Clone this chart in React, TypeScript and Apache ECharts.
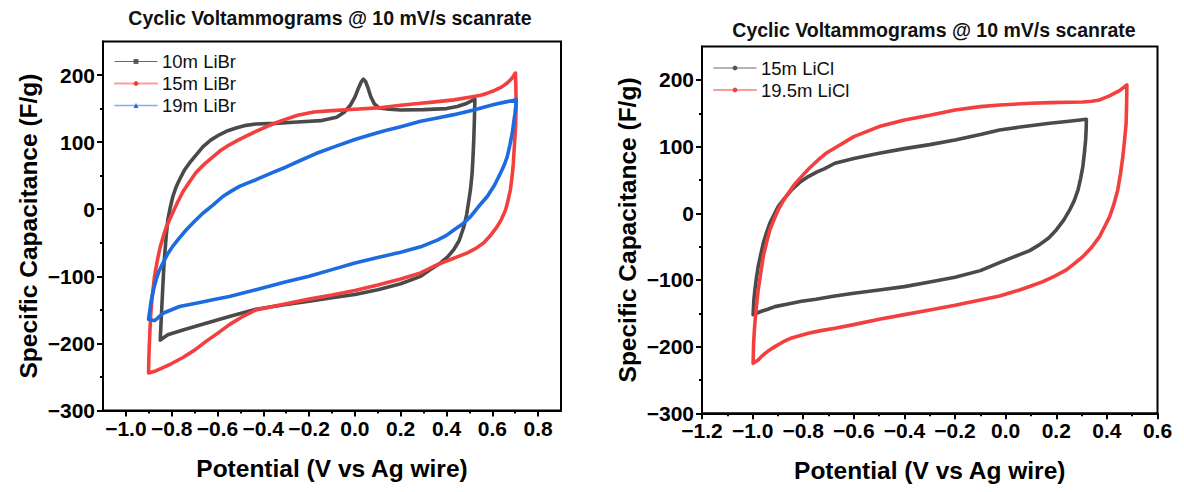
import { useEffect, useRef } from "react";
import * as echarts from "echarts";

type Pt = [number, number];

const TITLE = "Cyclic Voltammograms @ 10 mV/s scanrate";
const X_NAME = "Potential (V vs Ag wire)";
const Y_NAME = "Specific Capacitance (F/g)";

// Potential (V) vs specific capacitance (F/g); each loop is one full sweep.
const libr10: Pt[] = [
  [-0.85, -195], [-0.846, -165], [-0.843, -145], [-0.838, -110], [-0.834, -85], [-0.831, -70],
  [-0.824, -40], [-0.817, -16], [-0.806, 3], [-0.795, 19], [-0.781, 33], [-0.766, 44],
  [-0.745, 58], [-0.722, 69], [-0.693, 81], [-0.664, 93], [-0.63, 103], [-0.592, 111],
  [-0.555, 117], [-0.519, 121], [-0.475, 125], [-0.432, 127], [-0.35, 128], [-0.25, 130],
  [-0.15, 132], [-0.08, 137], [-0.045, 145], [-0.02, 155], [0.0, 167], [0.015, 180],
  [0.028, 190], [0.037, 194], [0.047, 190], [0.058, 180], [0.069, 168], [0.085, 157],
  [0.105, 151], [0.15, 149], [0.2, 148], [0.3, 148.5], [0.4, 150], [0.447, 153],
  [0.49, 158], [0.524, 164],
  [0.522, 135], [0.519, 103], [0.516, 80], [0.512, 54], [0.505, 30], [0.498, 14],
  [0.488, -8], [0.476, -26], [0.455, -47], [0.432, -60], [0.405, -71], [0.374, -80],
  [0.33, -90], [0.287, -100], [0.2, -111], [0.1, -120], [0.0, -127], [-0.1, -132],
  [-0.2, -137], [-0.3, -142], [-0.432, -149], [-0.548, -160], [-0.65, -170], [-0.751, -180],
  [-0.817, -187], [-0.85, -195],
];

const libr15: Pt[] = [
  [-0.901, -244], [-0.9, -225], [-0.898, -205], [-0.895, -180], [-0.891, -155], [-0.885, -130],
  [-0.875, -100], [-0.862, -75], [-0.85, -56], [-0.838, -42], [-0.824, -27], [-0.81, -16],
  [-0.795, -5], [-0.775, 10], [-0.751, 26], [-0.722, 41], [-0.693, 55], [-0.655, 68],
  [-0.62, 78], [-0.585, 88], [-0.548, 96], [-0.51, 103], [-0.475, 109], [-0.432, 116],
  [-0.38, 124], [-0.32, 132], [-0.25, 140], [-0.18, 145], [-0.1, 147], [0.0, 149],
  [0.1, 151], [0.2, 155], [0.287, 158], [0.35, 160], [0.432, 163], [0.5, 167],
  [0.55, 170], [0.578, 173], [0.61, 177], [0.64, 182], [0.665, 188], [0.685, 195], [0.701, 203],
  [0.703, 180], [0.704, 153], [0.702, 125], [0.698, 103], [0.691, 64], [0.685, 45],
  [0.679, 29], [0.668, 12], [0.658, -1], [0.64, -15], [0.621, -26], [0.59, -40],
  [0.563, -50], [0.53, -58], [0.491, -65], [0.455, -70], [0.418, -75], [0.38, -80],
  [0.345, -85], [0.287, -95], [0.2, -104], [0.1, -113], [0.0, -121], [-0.1, -128],
  [-0.2, -134], [-0.3, -141], [-0.432, -150], [-0.49, -160], [-0.548, -172], [-0.6, -185],
  [-0.65, -197], [-0.7, -210], [-0.751, -221], [-0.8, -230], [-0.838, -236], [-0.87, -241],
  [-0.901, -244],
];

const libr19: Pt[] = [
  [-0.901, -164], [-0.895, -150], [-0.889, -135], [-0.878, -118], [-0.868, -105], [-0.855, -92],
  [-0.838, -80], [-0.82, -68], [-0.795, -55], [-0.767, -43], [-0.737, -31], [-0.7, -18],
  [-0.664, -6], [-0.62, 6], [-0.577, 19], [-0.54, 27], [-0.504, 34], [-0.47, 39],
  [-0.432, 44], [-0.35, 56], [-0.3, 63], [-0.236, 73], [-0.17, 83], [-0.091, 93],
  [0.0, 104], [0.069, 111], [0.13, 117], [0.2, 123], [0.287, 131], [0.36, 136],
  [0.432, 141], [0.519, 148], [0.607, 156], [0.66, 160], [0.705, 163],
  [0.703, 155], [0.699, 143], [0.693, 128], [0.687, 113], [0.677, 96], [0.665, 78],
  [0.651, 65], [0.636, 54], [0.61, 36], [0.578, 19], [0.54, 4], [0.505, -11],
  [0.47, -22], [0.432, -31], [0.4, -39], [0.36, -46], [0.287, -56], [0.2, -64],
  [0.1, -72], [0.0, -80], [-0.1, -90], [-0.2, -100], [-0.3, -108], [-0.432, -120],
  [-0.548, -130], [-0.62, -135], [-0.693, -140], [-0.766, -145], [-0.838, -155], [-0.86, -162],
  [-0.875, -166], [-0.89, -165], [-0.901, -164],
];

const licl15: Pt[] = [
  [-0.998, -152], [-0.995, -130], [-0.991, -115], [-0.985, -97], [-0.978, -80], [-0.968, -62],
  [-0.958, -45], [-0.945, -29], [-0.932, -15], [-0.915, -2], [-0.899, 10], [-0.875, 22],
  [-0.846, 35], [-0.815, 46], [-0.78, 55], [-0.745, 62], [-0.715, 67], [-0.675, 75],
  [-0.6, 82], [-0.5, 90], [-0.4, 97], [-0.3, 103], [-0.2, 110], [-0.1, 118],
  [-0.024, 125], [0.05, 129], [0.174, 135], [0.25, 138], [0.319, 141],
  [0.318, 125], [0.316, 110], [0.311, 90], [0.305, 70], [0.296, 52], [0.286, 35],
  [0.271, 19], [0.253, 5], [0.23, -10], [0.2, -25], [0.17, -37], [0.134, -47],
  [0.095, -56], [0.055, -62], [0.015, -68], [-0.024, -74], [-0.1, -86], [-0.2, -96],
  [-0.3, -103], [-0.4, -110], [-0.5, -115], [-0.6, -120], [-0.675, -124], [-0.75, -129],
  [-0.807, -132], [-0.86, -136], [-0.912, -140], [-0.94, -144], [-0.965, -147], [-0.985, -150],
  [-0.998, -152],
];

const licl195: Pt[] = [
  [-0.998, -225], [-0.996, -195], [-0.993, -175], [-0.991, -165], [-0.985, -140], [-0.978, -115],
  [-0.968, -90], [-0.958, -65], [-0.945, -44], [-0.932, -25], [-0.915, -9], [-0.899, 5],
  [-0.88, 18], [-0.859, 30], [-0.835, 43], [-0.807, 55], [-0.775, 68], [-0.741, 80],
  [-0.71, 90], [-0.675, 98], [-0.6, 115], [-0.5, 130], [-0.4, 140], [-0.3, 147],
  [-0.2, 155], [-0.1, 160], [-0.024, 162.5], [0.1, 165], [0.174, 166], [0.25, 166.5],
  [0.305, 167], [0.34, 168], [0.371, 170], [0.41, 176], [0.45, 184], [0.479, 192.5],
  [0.478, 165], [0.476, 135], [0.47, 110], [0.463, 85], [0.454, 60], [0.443, 35],
  [0.428, 14], [0.411, -5], [0.39, -21], [0.371, -35], [0.34, -51], [0.305, -65],
  [0.27, -76], [0.24, -85], [0.19, -95], [0.147, -102.5], [0.1, -109], [0.055, -115],
  [-0.024, -124], [-0.1, -130], [-0.2, -138], [-0.3, -145], [-0.4, -152], [-0.5, -159],
  [-0.6, -167], [-0.675, -172.5], [-0.73, -176], [-0.78, -180], [-0.846, -187], [-0.88, -193],
  [-0.912, -200], [-0.94, -207], [-0.96, -213], [-0.978, -220], [-0.998, -225],
];

// Axis ticks
const leftXMajor = [-1.0, -0.8, -0.6, -0.4, -0.2, 0.0, 0.2, 0.4, 0.6, 0.8];
const leftXMinor = [-0.9, -0.7, -0.5, -0.3, -0.1, 0.1, 0.3, 0.5, 0.7];
const rightXMajor = [-1.2, -1.0, -0.8, -0.6, -0.4, -0.2, 0.0, 0.2, 0.4, 0.6];
const rightXMinor = [-1.1, -0.9, -0.7, -0.5, -0.3, -0.1, 0.1, 0.3, 0.5];
const yMajor = [-300, -200, -100, 0, 100, 200];
const yMinor = [-250, -150, -50, 50, 150];

const FONT = '"Liberation Sans", Arial, Helvetica, sans-serif';
const BLACK = "#000";

const signed = (digits: number) => (v: number) => {
  const s = Math.abs(v) < 1e-9 ? (0).toFixed(digits) : v.toFixed(digits);
  return s.replace("-", "\u2212");
};

const nameStyle = { fontSize: 24.5, fontWeight: "bold", fontFamily: FONT, color: BLACK };
const tickLabelStyle = { fontSize: 21, fontWeight: "bold", fontFamily: FONT, color: BLACK };

function xMain(gridIndex: number, min: number, max: number, major: number[]) {
  return {
    type: "value", gridIndex, position: "bottom", min, max,
    axisLine: { show: true, onZero: false, lineStyle: { color: BLACK, width: 2 } },
    axisTick: { show: true, length: 6, customValues: major, lineStyle: { color: BLACK, width: 2 } },
    axisLabel: { show: true, customValues: major, formatter: signed(1), margin: 7, ...tickLabelStyle },
    splitLine: { show: false },
    name: X_NAME, nameLocation: "middle", nameGap: 45, nameTextStyle: nameStyle,
  };
}

function xMinor(gridIndex: number, min: number, max: number, minor: number[]) {
  return {
    type: "value", gridIndex, position: "bottom", min, max,
    axisLine: { show: false, onZero: false },
    axisTick: { show: true, length: 3, customValues: minor, lineStyle: { color: BLACK, width: 2 } },
    axisLabel: { show: false },
    splitLine: { show: false },
  };
}

function yMain(gridIndex: number) {
  return {
    type: "value", gridIndex, position: "left", min: -300, max: 250,
    axisLine: { show: true, onZero: false, lineStyle: { color: BLACK, width: 2 } },
    axisTick: { show: true, length: 6, customValues: yMajor, lineStyle: { color: BLACK, width: 2 } },
    axisLabel: { show: true, customValues: yMajor, formatter: signed(0), margin: 8, ...tickLabelStyle },
    splitLine: { show: false },
    name: Y_NAME, nameLocation: "middle", nameGap: 62, nameTextStyle: nameStyle,
  };
}

function yMinorAxis(gridIndex: number) {
  return {
    type: "value", gridIndex, position: "left", min: -300, max: 250,
    axisLine: { show: false, onZero: false },
    axisTick: { show: true, length: 3, customValues: yMinor, lineStyle: { color: BLACK, width: 2 } },
    axisLabel: { show: false },
    splitLine: { show: false },
  };
}

function loop(name: string, data: Pt[], color: string, axis: number, symbol: string) {
  return {
    type: "line", name, data, xAxisIndex: axis, yAxisIndex: axis,
    showSymbol: false, symbol, symbolSize: 4, smooth: false, silent: true,
    lineStyle: { color, width: 3.6, join: "round", cap: "round" },
    itemStyle: { color },
  };
}

const GRAY = "#4a4a4a";
const RED = "#f43f3f";
const BLUE = "#1d6be0";

const legendText = { fontSize: 18.5, color: "#111", fontFamily: FONT };

const option = {
  animation: false,
  backgroundColor: "#fff",
  grid: [
    { left: 103, top: 41.5, width: 458, height: 369, show: true, borderColor: BLACK, borderWidth: 2, backgroundColor: "transparent" },
    { left: 702, top: 46.6, width: 455.5, height: 366.7, show: true, borderColor: BLACK, borderWidth: 2, backgroundColor: "transparent" },
  ],
  xAxis: [
    xMain(0, -1.1, 0.9, leftXMajor),
    xMinor(0, -1.1, 0.9, leftXMinor),
    xMain(1, -1.2, 0.6, rightXMajor),
    xMinor(1, -1.2, 0.6, rightXMinor),
  ],
  yAxis: [yMain(0), yMinorAxis(0), yMain(1), yMinorAxis(1)],
  legend: [
    {
      orient: "vertical", left: 109, top: 47, itemWidth: 42, itemHeight: 6, itemGap: 3,
      textStyle: legendText,
      data: [
        { name: "10m LiBr", lineStyle: { color: "#666", width: 1.2 }, itemStyle: { color: "#555" } },
        { name: "15m LiBr", lineStyle: { color: "rgba(245,60,60,0.5)", width: 2 }, itemStyle: { color: RED } },
        { name: "19m LiBr", lineStyle: { color: "rgba(28,104,222,0.55)", width: 1.6 }, itemStyle: { color: BLUE } },
      ],
    },
    {
      orient: "vertical", left: 708, top: 53.5, itemWidth: 42, itemHeight: 6, itemGap: 3,
      textStyle: legendText,
      data: [
        { name: "15m LiCl", lineStyle: { color: "rgba(72,72,72,0.55)", width: 1.6 }, itemStyle: { color: "#555" } },
        { name: "19.5m LiCl", lineStyle: { color: "rgba(245,60,60,0.5)", width: 2 }, itemStyle: { color: RED } },
      ],
    },
  ],
  series: [
    loop("10m LiBr", libr10, GRAY, 0, "rect"),
    loop("15m LiBr", libr15, RED, 0, "circle"),
    loop("19m LiBr", libr19, BLUE, 0, "triangle"),
    loop("15m LiCl", licl15, GRAY, 2, "circle"),
    loop("19.5m LiCl", licl195, RED, 2, "circle"),
  ],
  graphic: [
    {
      type: "text", x: 330, y: 18, silent: true,
      style: { text: TITLE, fontSize: 19.5, fontWeight: "bold", fontFamily: FONT, fill: "#111", align: "center", verticalAlign: "middle" },
    },
    {
      type: "text", x: 934, y: 30, silent: true,
      style: { text: TITLE, fontSize: 19.5, fontWeight: "bold", fontFamily: FONT, fill: "#111", align: "center", verticalAlign: "middle" },
    },
  ],
};

export default function App() {
  const ref = useRef<HTMLDivElement>(null);
  useEffect(() => {
    document.body.style.margin = "0";
    const el = ref.current;
    if (!el) return;
    const chart = echarts.init(el, null, { renderer: "svg" });
    chart.setOption(option as any);
    return () => chart.dispose();
  }, []);
  return <div ref={ref} style={{ width: 1184, height: 492, background: "#fff" }} />;
}
